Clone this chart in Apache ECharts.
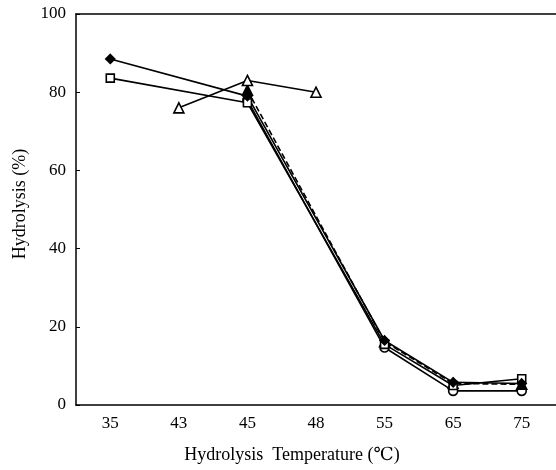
<!DOCTYPE html>
<html><head><meta charset="utf-8">
<script src="https://cdn.jsdelivr.net/npm/echarts@6/dist/echarts.min.js"></script>
<style>html,body{margin:0;padding:0;background:#fff}#c{width:556px;height:470px}</style>
</head><body><div id="c"></div>
<script>
const categories = ['35','43','45','48','55','65','75'];
const diamondVals = [88.5, null, 79, null, 16.5, 5.8, 5.5];
const squareVals = [83.6, null, 77.3, null, 15.5, 5.0, 6.7];
const triangleVals = [null, 76, 83, 80, null, null, null];
const filledTriVals = [null, null, 80.5, null, 16.2, 5.5, 5.3];
const circleVals = [null, null, 78, null, 14.7, 3.6, 3.6];
const yTicks = [0, 20, 40, 60, 80, 100];
const xTitle = 'Hydrolysis  Temperature (\u2103)';
const yTitle = 'Hydrolysis (%)';

const font = '"Liberation Serif","DejaVu Serif",serif';
const chart = echarts.init(document.getElementById('c'));
function ser(data, symbol, filled, dashed, size) {
  return {
    type: 'line', data: data, connectNulls: true, symbol: symbol, symbolSize: size,
    showAllSymbol: true,
    lineStyle: {color: '#000', width: 1.6, type: dashed ? [6, 3] : 'solid'},
    itemStyle: {color: filled ? '#000' : '#fff', borderColor: '#000', borderWidth: 1.6},
    animation: false
  };
}
chart.setOption({
  animation: false,
  grid: {left: 76, right: 0, top: 14, bottom: 65},
  xAxis: [{
    type: 'category', data: categories, boundaryGap: true,
    axisLine: {lineStyle: {color: '#000', width: 1.5}},
    axisTick: {show: false},
    axisLabel: {color: '#000', fontFamily: font, fontSize: 17, margin: 10}
  }, {
    type: 'category', data: categories, position: 'top',
    axisLine: {lineStyle: {color: '#000', width: 1.5}},
    axisTick: {show: false}, axisLabel: {show: false}
  }],
  yAxis: {
    type: 'value', min: yTicks[0], max: yTicks[yTicks.length - 1], interval: 20,
    axisLine: {show: true, lineStyle: {color: '#000', width: 1.5}},
    axisTick: {show: true, inside: true, length: 4, lineStyle: {color: '#000'}},
    splitLine: {show: false},
    axisLabel: {color: '#000', fontFamily: font, fontSize: 17, margin: 10}
  },
  graphic: [
    {type: 'text', x: 292, y: 455, style: {text: xTitle, font: '18px ' + font, fill: '#000', align: 'center', verticalAlign: 'middle'}},
    {type: 'text', x: 20, y: 204, rotation: Math.PI / 2, style: {text: yTitle, font: '18px ' + font, fill: '#000', align: 'center', verticalAlign: 'middle'}}
  ],
  series: [
    ser(circleVals, 'circle', false, false, 9),
    ser(filledTriVals, 'triangle', true, true, 10),
    ser(squareVals, 'rect', false, false, 8),
    ser(diamondVals, 'diamond', true, false, 9),
    ser(triangleVals, 'triangle', false, false, 10)
  ]
});
</script></body></html>
